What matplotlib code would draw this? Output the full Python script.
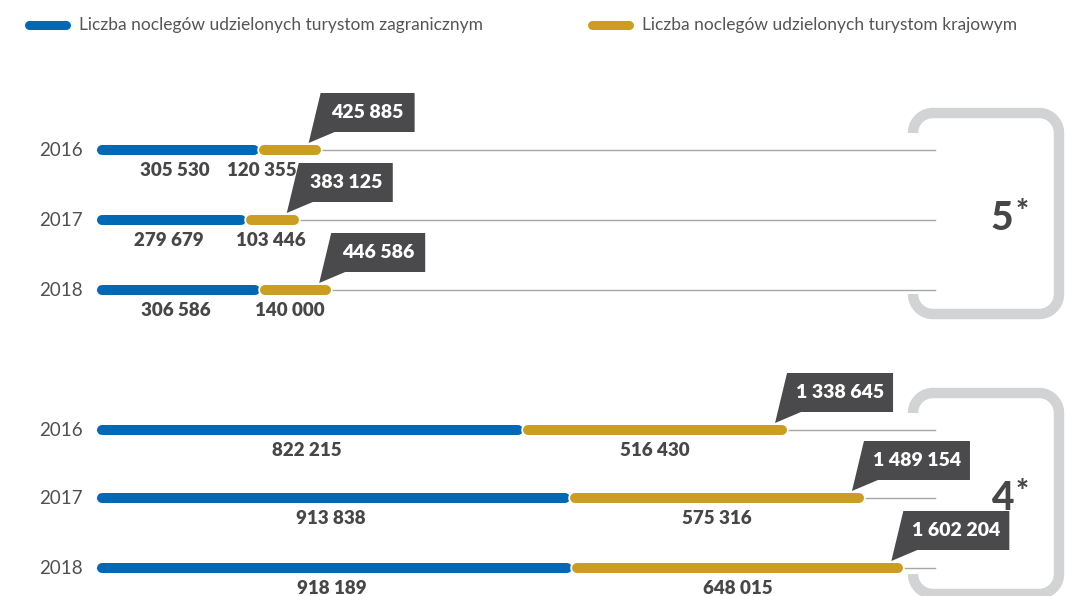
import matplotlib.pyplot as plt
import matplotlib.patheffects as pe
from matplotlib.patches import Polygon
import numpy as np

plt.rcParams['font.family'] = ['Lato', 'DejaVu Sans']

# dane: noclegi w hotelach 5* i 4*
years = ['2016', '2017', '2018']
foreign_5 = [305530, 279679, 306586]
domestic_5 = [120355, 103446, 140000]
total_5 = [425885, 383125, 446586]
foreign_4 = [822215, 913838, 918189]
domestic_4 = [516430, 575316, 648015]
total_4 = [1338645, 1489154, 1602204]   # tak jak w oryginale

legend_labels = ['Liczba noclegów udzielonych turystom zagranicznym',
                 'Liczba noclegów udzielonych turystom krajowym']

BLUE = '#0068b4'
GOLD = '#cb9d22'
DARK = '#4a4a4c'
TXT = '#474747'
GRID = '#a6a6a6'
BRACKET = '#d2d3d4'

W, H = 1066, 596
X0 = 97          # px, początek słupków
K = 0.000511     # px na jednostkę
GAP = 6          # px odstępu między segmentami
BAR_W = 7.2      # pt


def d(px):
    return px / K


def fmt(v):
    return f'{v:,}'.replace(',', ' ')


fig = plt.figure(figsize=(W / 100, H / 100), dpi=100)
lay = fig.add_axes([0, 0, 1, 1])
lay.set_xlim(0, W)
lay.set_ylim(H, 0)
lay.axis('off')
ax = fig.add_axes([0, 0, 1, 1])
ax.set_xlim(-X0 / K, (W - X0) / K)
ax.set_ylim(H, 0)
ax.axis('off')
ax.patch.set_alpha(0)

# legenda
for x, lab, col in [(29, legend_labels[0], BLUE), (592, legend_labels[1], GOLD)]:
    lay.plot([x, x + 37], [25, 25], color=col, lw=6.5, solid_capstyle='round')
    lay.text(x + 50, 25, lab, fontsize=12.5, color='#555555', va='center')


def draw_group(ys, foreign, domestic, total, shifts):
    r = d(5)
    for y, yr, v1, v2, tot, sh in zip(ys, years, foreign, domestic, total, shifts):
        g0 = v1 + d(GAP)
        ex = g0 + v2
        ax.plot([0, d(935 - X0)], [y, y], color=GRID, lw=1, zorder=1)
        ax.plot([r, g0 - r], [y, y], color=BLUE, lw=BAR_W,
                solid_capstyle='round', zorder=2)
        ax.plot([g0 + r, ex - r], [y, y], color=GOLD, lw=BAR_W,
                solid_capstyle='round', zorder=3,
                path_effects=[pe.Stroke(linewidth=BAR_W + 2.6, foreground='white'),
                              pe.Normal()])
        ax.text(-d(14), y, yr, fontsize=13.5, color='#505050',
                ha='right', va='center')
        ax.text(v1 / 2, y + 20, fmt(v1), fontsize=13.5, fontweight='heavy',
                color=TXT, ha='center', va='center')
        ax.text(g0 + v2 / 2 + d(sh), y + 20, fmt(v2), fontsize=13.5,
                fontweight='heavy', color=TXT, ha='center', va='center')
        # dymek z sumą
        label = fmt(tot)
        bw = 94 if len(label) < 8 else 106
        poly = [(ex - d(12), y - 7), (ex, y - 57), (ex + d(bw), y - 57),
                (ex + d(bw), y - 18), (ex + d(14), y - 18)]
        ax.add_patch(Polygon(poly, closed=True, fc=DARK, ec='none', zorder=4))
        ax.text(ex + d(bw / 2), y - 37, label, fontsize=14, fontweight='heavy',
                color='white', ha='center', va='center', zorder=5)


draw_group([150, 220, 290], foreign_5, domestic_5, total_5, [-28, -2, -6])
draw_group([430, 498, 568], foreign_4, domestic_4, total_4, [0, 0, 0])


def bracket(x0, y0, x1, y1, r):
    pts = []
    for cx, cy, a0, a1 in [(x0 + r, y0 + r, 180, 270), (x1 - r, y0 + r, 270, 360),
                           (x1 - r, y1 - r, 0, 90), (x0 + r, y1 - r, 90, 180)]:
        t = np.radians(np.linspace(a0, a1, 30))
        pts.append(np.column_stack([cx + r * np.cos(t), cy + r * np.sin(t)]))
    pts = np.vstack(pts)
    lay.plot(pts[:, 0], pts[:, 1], color=BRACKET, lw=7.5, solid_capstyle='butt')


bracket(913, 113, 1059, 314, 20)
bracket(913, 393, 1059, 594, 20)

for yc, s in [(218, '5'), (498, '4')]:
    lay.text(1002, yc, s, fontsize=28, fontweight='black', color=TXT,
             ha='center', va='center')
    lay.text(1022, yc - 6, '*', fontsize=22, fontweight='black', color=TXT,
             ha='center', va='center')

fig.savefig('out.png', dpi=100, facecolor='white')
